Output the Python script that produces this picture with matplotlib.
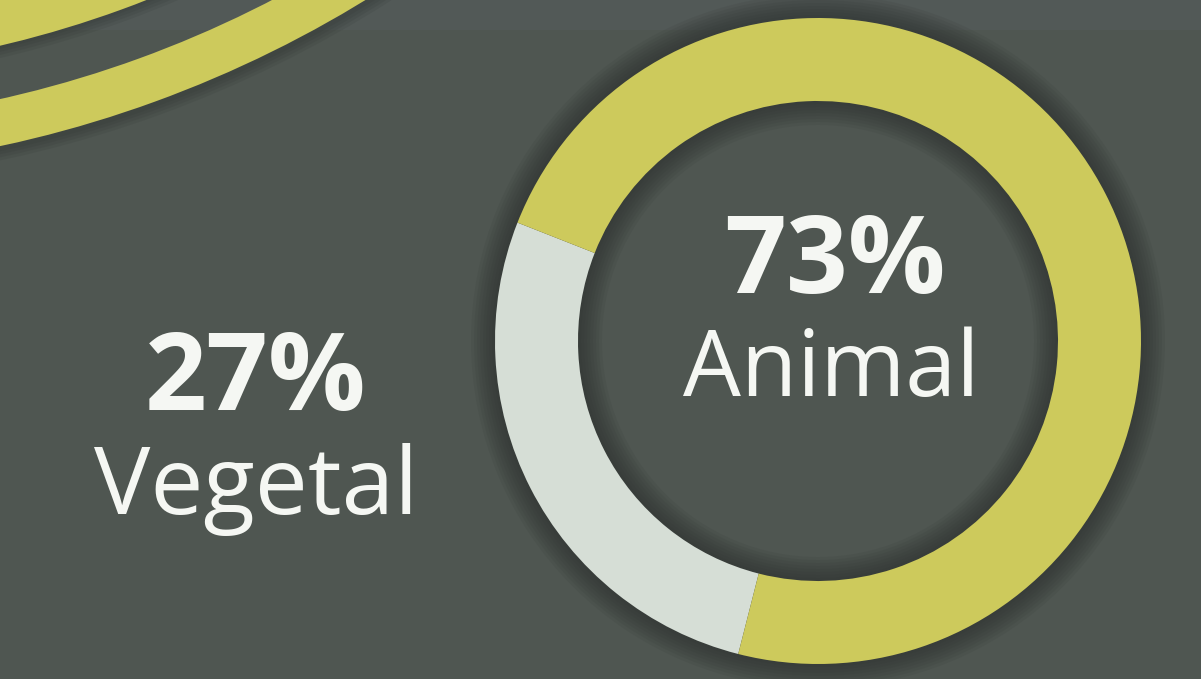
import matplotlib
matplotlib.use("Agg")
import matplotlib.pyplot as plt
from matplotlib.patches import Wedge, Rectangle

# data
categories = ["Vegetal", "Animal"]
values = [27, 73]
pct_labels = ["27%", "73%"]

W, H = 1201, 679
BG = "#4f5651"
YELLOW = "#cdca5c"
LIGHT = "#d6ded6"
DARK = "#2c302f"
WHITE = "#f5f7f3"

fig = plt.figure(figsize=(W / 100, H / 100), dpi=100)
fig.patch.set_facecolor(BG)
ax = fig.add_axes([0, 0, 1, 1])
ax.set_facecolor(BG)

# subtle top band
ax.add_patch(Rectangle((0, H - 30), W, 30, color="#525957", lw=0, zorder=0))

# decorative arcs, top-left (centre far off-canvas)
ac = (-244, H + 994)
for r, w in [(1180, 16), (1080, 16)]:
    for k in range(4):
        ax.add_patch(Wedge(ac, r - k * 3, 265, 365, width=w - k * 3,
                           color=DARK, alpha=0.12, lw=0, zorder=1))
ax.add_patch(Wedge(ac, 1166, 265, 365, width=46, color=YELLOW, lw=0, zorder=2))
ax.add_patch(Wedge(ac, 1068, 265, 365, width=70, color=YELLOW, lw=0, zorder=2))

# donut
cx, cy = 818, H - 341
R, RW = 323, 83
for d in range(24, 0, -3):
    ax.add_patch(Wedge((cx, cy), R + d, 0, 360, width=RW + 2 * d,
                       color=DARK, alpha=0.1, lw=0, zorder=1))
ax.pie(values, colors=[LIGHT, YELLOW], startangle=158.5, counterclock=True,
       radius=R, center=(cx, cy), wedgeprops=dict(width=RW, linewidth=0))

ax.set_xlim(0, W)
ax.set_ylim(0, H)
ax.set_aspect("auto")
ax.axis("off")

font = "Open Sans"
ax.text(256, H - 410, pct_labels[0], ha="center", va="baseline",
        fontsize=78, fontweight="bold", color=WHITE, family=font)
ax.text(256, H - 514, categories[0], ha="center", va="baseline",
        fontsize=68, color=WHITE, family=font)
ax.text(835, H - 293, pct_labels[1], ha="center", va="baseline",
        fontsize=78, fontweight="bold", color=WHITE, family=font)
ax.text(831, H - 396, categories[1], ha="center", va="baseline",
        fontsize=66, color=WHITE, family=font)

fig.savefig("out.png", dpi=100, facecolor=BG)
